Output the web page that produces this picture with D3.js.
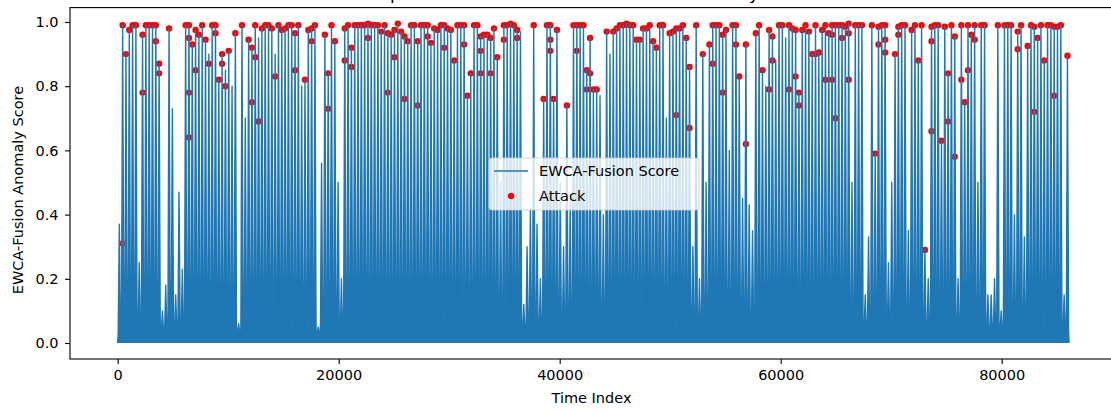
<!DOCTYPE html>
<html><head><meta charset="utf-8">
<script src="https://cdn.jsdelivr.net/npm/d3@7"></script>
<style>
html,body{margin:0;padding:0;background:#fff;}
svg{display:block;}
text{font-family:"DejaVu Sans",sans-serif;fill:#000;}
</style></head><body>
<svg id="c" width="1111" height="412"></svg>
<script>
// ---- data ----
// EWCA-Fusion score, summarised per time bin of 300 samples: highest score in each bin;
// between spikes the score stays in a low noise band up to about 0.03
const binSize = 300;
const noiseFloor = 0.03;
const scoreBinMax = [
0.37,0.99,0.90,0.975,0.99,0.99,0.25,0.96,0.99,0.99,
0.99,0.99,0.87,0.10,0.18,0.98,0.73,0.15,0.47,0.23,
0.99,0.99,0.93,0.975,0.96,0.99,0.945,0.90,0.99,0.99,
0.82,0.90,0.85,0.91,0.80,0.965,0.06,0.99,0.70,0.945,
0.92,0.99,0.95,0.98,0.99,0.99,0.98,0.90,0.99,0.975,
0.98,0.99,0.99,0.965,0.99,0.80,0.82,0.975,0.98,0.99,
0.05,0.56,0.96,0.84,0.99,0.94,0.50,0.20,0.98,0.99,
0.92,0.99,0.99,0.99,0.99,0.995,0.99,0.99,0.99,0.97,
0.99,0.965,0.96,0.975,0.995,0.97,0.955,0.94,0.99,0.99,
0.94,0.99,0.99,0.99,0.935,0.98,0.975,0.99,0.99,0.98,
0.975,0.88,0.99,0.99,0.99,0.77,0.84,0.99,0.99,0.955,
0.96,0.96,0.95,0.98,0.89,0.50,0.99,0.99,0.995,0.99,
0.975,0.97,0.12,0.30,0.42,0.99,0.37,0.20,0.76,0.99,
0.99,0.76,0.975,0.50,0.30,0.74,0.45,0.99,0.99,0.99,
0.99,0.85,0.95,0.79,0.79,0.77,0.40,0.97,0.90,0.97,
0.98,0.99,0.99,0.995,0.99,0.99,0.945,0.945,0.98,0.98,
0.99,0.94,0.92,0.99,0.99,0.70,0.965,0.97,0.98,0.98,
0.99,0.95,0.86,0.30,0.99,0.20,0.90,0.50,0.93,0.99,
0.99,0.99,0.96,0.975,0.60,0.99,0.99,0.83,0.45,0.93,
0.43,0.35,0.965,0.99,0.85,0.80,0.975,0.955,0.88,0.99,
0.99,0.95,0.99,0.98,0.975,0.78,0.975,0.99,0.97,0.90,
0.99,0.905,0.975,0.99,0.965,0.99,0.99,0.99,0.99,0.985,
0.995,0.50,0.99,0.99,0.99,0.15,0.33,0.99,0.59,0.985,
0.99,0.99,0.25,0.50,0.90,0.985,0.99,0.99,0.35,0.975,
0.99,0.88,0.99,0.29,0.20,0.985,0.99,0.99,0.63,0.985,
0.84,0.99,0.955,0.20,0.99,0.75,0.99,0.96,0.99,0.50,
0.99,0.99,0.15,0.15,0.20,0.99,0.10,0.99,0.99,0.99,
0.40,0.97,0.99,0.33,0.925,0.99,0.985,0.95,0.99,0.88,
0.99,0.99,0.985,0.985,0.99,0.15,0.895
];
// attack points: [time index, score]
const attackPoints = [
[450,.99],[450,.31],[750,.90],[1050,.975],[1350,.99],[1650,.99],[2250,.96],[2250,.78],[2550,.99],[2850,.99],[3150,.99],[3450,.99],[3450,.94],[3750,.87],[3750,.84],[4650,.98],[6150,.99],[6450,.99],[6450,.95],[6450,.78],[6450,.64],[6750,.93],[7050,.975],[7050,.85],[7350,.96],[7650,.99],[7950,.945],[8250,.87],[8550,.99],[8850,.99],[8850,.965],[9150,.82],[9450,.90],[9450,.87],[9750,.80],[10050,.91],[10650,.965],[11250,.99],[11850,.945],[12150,.75],[12150,.92],[12450,.89],[12450,.99],[12750,.69],[13050,.98],[13350,.99],[13650,.99],[13950,.98],[14250,.83],[14550,.99],[14850,.975],[15150,.98],[15450,.99],[15750,.99],[16050,.965],[16050,.85],[16350,.99],[16950,.82],[17250,.975],[17550,.94],[17550,.98],[17850,.99],[18750,.96],[19050,.73],[19050,.84],[19350,.99],[19650,.94],[20550,.98],[20550,.88],[20850,.99],[21150,.92],[21150,.86],[21450,.99],[21750,.99],[22050,.99],[22350,.99],[22650,.995],[22650,.95],[22950,.99],[23250,.99],[23550,.99],[23850,.97],[24150,.99],[24150,.056],[24450,.965],[24450,.78],[24750,.96],[25050,.975],[25050,.89],[25350,.995],[25650,.97],[25950,.955],[25950,.76],[26250,.94],[26550,.99],[26850,.99],[27150,.94],[27150,.74],[27450,.99],[27750,.99],[28050,.99],[28050,.955],[28350,.935],[28650,.98],[28950,.975],[29250,.99],[29550,.99],[29550,.92],[29850,.98],[30150,.975],[30450,.88],[30750,.99],[31050,.99],[31350,.99],[31350,.93],[31650,.77],[31950,.84],[32250,.99],[32550,.99],[32850,.84],[32850,.91],[32850,.955],[32850,.014],[33150,.96],[33450,.96],[33750,.95],[33750,.84],[34050,.98],[34350,.89],[34950,.99],[34950,.945],[35250,.99],[35550,.995],[35850,.99],[36150,.95],[36150,.975],[37650,.99],[38550,.76],[38850,.99],[39150,.99],[39150,.945],[39150,.91],[39450,.76],[39750,.975],[40650,.74],[41250,.99],[41550,.91],[41550,.99],[41850,.99],[42150,.99],[42450,.85],[42450,.79],[42750,.95],[42750,.84],[43050,.79],[43350,.79],[44250,.97],[44850,.97],[45150,.98],[45450,.99],[45750,.99],[46050,.995],[46350,.99],[46650,.99],[46950,.945],[47250,.945],[47550,.98],[47850,.98],[48150,.99],[48450,.94],[48750,.92],[49050,.99],[49350,.99],[49950,.965],[50250,.97],[50550,.98],[50550,.71],[50850,.98],[51150,.99],[51450,.95],[51750,.86],[51750,.67],[52350,.99],[52950,.90],[53550,.93],[53850,.99],[53850,.87],[54150,.99],[54450,.99],[54750,.78],[54750,.96],[55050,.975],[55650,.99],[55950,.99],[55950,.93],[56250,.83],[56850,.93],[56850,.62],[57750,.965],[58050,.99],[58350,.85],[58950,.975],[58950,.79],[59250,.955],[59250,.88],[59850,.99],[60150,.99],[60750,.79],[60750,.99],[61050,.98],[61350,.975],[61350,.83],[61650,.78],[61650,.74],[61950,.975],[62250,.99],[62550,.97],[62850,.90],[63150,.99],[63150,.90],[63450,.905],[63750,.975],[64050,.99],[64050,.82],[64350,.965],[64650,.99],[64650,.96],[64650,.82],[64950,.99],[64950,.70],[65250,.99],[65550,.99],[65550,.95],[65850,.985],[66150,.995],[66150,.82],[66150,.965],[66750,.99],[67050,.99],[67350,.99],[68250,.99],[68550,.59],[68850,.93],[68850,.985],[69150,.99],[69450,.945],[69450,.905],[69450,.99],[69750,.03],[70350,.90],[70650,.96],[70650,.985],[70950,.99],[71250,.99],[71850,.975],[72150,.99],[72450,.88],[72750,.99],[73050,.29],[73650,.985],[73650,.94],[73650,.66],[73950,.99],[74250,.99],[74550,.63],[74850,.985],[75150,.84],[75150,.69],[75450,.99],[75750,.955],[75750,.58],[76350,.99],[76350,.82],[76650,.75],[76950,.99],[76950,.85],[77250,.96],[77550,.99],[77550,.945],[78150,.99],[78450,.99],[79650,.99],[80250,.99],[80550,.99],[80550,.06],[80850,.99],[81450,.97],[81450,.915],[81750,.99],[82350,.925],[82650,.99],[82950,.72],[82950,.985],[83250,.95],[83550,.99],[83850,.88],[84150,.99],[84450,.99],[84750,.77],[84750,.985],[85050,.985],[85350,.99],[85950,.895]
];
const xTicks = [0, 20000, 40000, 60000, 80000];
const yTicks = [0.0, 0.2, 0.4, 0.6, 0.8, 1.0];
const titleText = "EWCA-Fusion Output Scores over the Time Index with Every Attack Marked in Red";
const xLabel = "Time Index";
const yLabel = "EWCA-Fusion Anomaly Score";
const legendLabels = ["EWCA-Fusion Score", "Attack"];

// ---- layout ----
const L = 70, R = 1119, T = 7.6, B = 359;
const FS = 14.5;
const blue = "#1f77b4";

const svg = d3.select("#c");
const x = d3.scaleLinear().domain([-4315, 90615]).range([L, R]);
const y = d3.scaleLinear().domain([-0.0498, 1.0448]).range([B, T]);

// series points: each bin is a spike up to its maximum, rising from the noise band
const pts = [[0, 0]];
scoreBinMax.forEach((v, i) => {
  const t0 = i * binSize;
  pts.push([t0 + binSize * 0.15, noiseFloor]);
  pts.push([t0 + binSize * 0.5, v]);
  pts.push([t0 + binSize * 0.85, noiseFloor]);
});
pts.push([scoreBinMax.length * binSize, 0]);

svg.append("clipPath").attr("id", "pc").append("rect")
  .attr("x", L).attr("y", T).attr("width", R - L).attr("height", B - T);
const plot = svg.append("g").attr("clip-path", "url(#pc)");

// attack scatter (drawn under the line, like matplotlib zorder)
plot.append("g").selectAll("circle").data(attackPoints).join("circle")
  .attr("cx", d => x(d[0])).attr("cy", d => y(d[1])).attr("r", 3.2)
  .attr("fill", "#ff0000");

// dense line: filled body of the packed samples + stroke
plot.append("path").datum(pts)
  .attr("d", d3.area().x(d => x(d[0])).y0(y(0)).y1(d => y(d[1])))
  .attr("fill", blue);
plot.append("path").datum(pts)
  .attr("d", d3.line().x(d => x(d[0])).y(d => y(d[1])))
  .attr("fill", "none").attr("stroke", blue).attr("stroke-width", 1.4)
  .attr("stroke-linejoin", "round");

// axes
const gx = svg.append("g").attr("transform", `translate(0,${B})`)
  .call(d3.axisBottom(x).tickValues(xTicks).tickFormat(d3.format("d")).tickSize(5).tickPadding(6));
const gy = svg.append("g").attr("transform", `translate(${L},0)`)
  .call(d3.axisLeft(y).tickValues(yTicks).tickFormat(d3.format(".1f")).tickSize(5).tickPadding(6.5));
[gx, gy].forEach(g => {
  g.select(".domain").remove();
  g.selectAll(".tick line").attr("stroke", "#000").attr("stroke-width", 1.1);
  g.selectAll(".tick text").attr("font-size", FS).attr("font-family", "DejaVu Sans").attr("fill", "#000");
});

// spines
svg.append("rect").attr("x", L).attr("y", T).attr("width", R - L).attr("height", B - T)
  .attr("fill", "none").attr("stroke", "#000").attr("stroke-width", 1.1);

// labels
svg.append("text").attr("x", (L + R) / 2 - 3).attr("y", 398).attr("text-anchor", "middle")
  .attr("dominant-baseline", "central").attr("font-size", FS).text(xLabel);
svg.append("text").attr("transform", `translate(18,190) rotate(-90)`)
  .attr("text-anchor", "middle").attr("dominant-baseline", "central").attr("font-size", FS).text(yLabel);
svg.append("text").attr("x", (L + R) / 2).attr("y", -1).attr("text-anchor", "middle")
  .attr("font-size", 17.4).text(titleText);

// legend
const lg = svg.append("g");
lg.append("rect").attr("x", 489).attr("y", 158).attr("width", 210).attr("height", 52).attr("rx", 3)
  .attr("fill", "#fff").attr("fill-opacity", 0.8).attr("stroke", "#cccccc").attr("stroke-opacity", 0.8);
lg.append("line").attr("x1", 494).attr("x2", 528).attr("y1", 171).attr("y2", 171)
  .attr("stroke", blue).attr("stroke-width", 1.5);
lg.append("circle").attr("cx", 511).attr("cy", 196).attr("r", 3.2).attr("fill", "#ff0000");
lg.selectAll("text.lab").data(legendLabels).join("text").attr("class", "lab")
  .attr("x", 539).attr("y", (d, i) => 171 + i * 25).attr("dominant-baseline", "central")
  .attr("font-size", FS).text(d => d);
</script>
</body></html>
